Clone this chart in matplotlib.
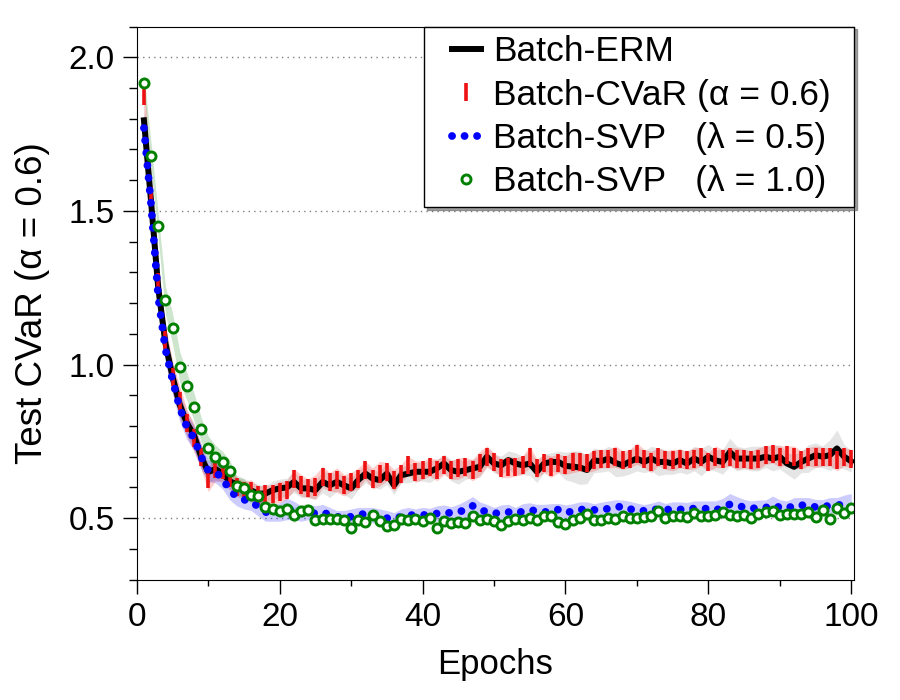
import matplotlib
matplotlib.use("Agg")
import matplotlib.pyplot as plt
from matplotlib.legend_handler import HandlerLine2D
import numpy as np

plt.rcParams['font.family'] = ['Liberation Sans', 'DejaVu Sans']

# ----- data -----
epochs = list(range(1, 101))

erm = [1.795, 1.53, 1.25, 1.07, 0.96, 0.87, 0.81, 0.77, 0.70, 0.65,
       0.66, 0.645, 0.62, 0.61, 0.60, 0.59, 0.58, 0.58, 0.591, 0.597,
       0.60, 0.618, 0.597, 0.597, 0.591, 0.618, 0.607, 0.618, 0.607, 0.597,
       0.624, 0.645, 0.629, 0.624, 0.645, 0.607, 0.64, 0.645, 0.651, 0.651,
       0.651, 0.662, 0.678, 0.656, 0.651, 0.656, 0.662, 0.667, 0.70, 0.678,
       0.672, 0.689, 0.678, 0.672, 0.678, 0.651, 0.678, 0.683, 0.683, 0.67,
       0.668, 0.665, 0.657, 0.688, 0.685, 0.694, 0.68, 0.672, 0.684, 0.694,
       0.683, 0.694, 0.683, 0.683, 0.678, 0.689, 0.678, 0.694, 0.683, 0.70,
       0.688, 0.683, 0.715, 0.694, 0.694, 0.694, 0.694, 0.70, 0.694, 0.70,
       0.678, 0.667, 0.683, 0.694, 0.705, 0.70, 0.705, 0.727, 0.70, 0.685]
erm_sd = [0.07, 0.06, 0.05, 0.05, 0.05, 0.045, 0.04, 0.04, 0.04, 0.035,
          0.035, 0.03, 0.03, 0.03, 0.03, 0.025, 0.03, 0.025, 0.03, 0.03,
          0.03, 0.035, 0.03, 0.03, 0.03, 0.035, 0.04, 0.03, 0.03, 0.035,
          0.03, 0.03, 0.025, 0.03, 0.035, 0.03, 0.025, 0.03, 0.03, 0.03,
          0.035, 0.03, 0.03, 0.035, 0.04, 0.03, 0.03, 0.035, 0.03, 0.03,
          0.03, 0.03, 0.035, 0.03, 0.04, 0.035, 0.03, 0.03, 0.035, 0.045,
          0.05, 0.055, 0.045, 0.04, 0.035, 0.04, 0.045, 0.035, 0.04, 0.04,
          0.035, 0.04, 0.045, 0.04, 0.035, 0.04, 0.035, 0.04, 0.045, 0.04,
          0.035, 0.04, 0.045, 0.04, 0.035, 0.04, 0.04, 0.035, 0.04, 0.04,
          0.035, 0.04, 0.035, 0.045, 0.04, 0.035, 0.05, 0.06, 0.04, 0.035]

cvar = [1.875, 1.55, 1.27, 1.08, 0.96, 0.88, 0.81, 0.76, 0.70, 0.626,
        0.66, 0.656, 0.63, 0.60, 0.59, 0.59, 0.575, 0.578, 0.578, 0.585,
        0.591, 0.626, 0.607, 0.597, 0.602, 0.634, 0.618, 0.624, 0.607, 0.618,
        0.629, 0.656, 0.629, 0.645, 0.651, 0.624, 0.645, 0.672, 0.651, 0.656,
        0.667, 0.656, 0.672, 0.656, 0.662, 0.667, 0.656, 0.678, 0.70, 0.683,
        0.662, 0.667, 0.667, 0.672, 0.70, 0.662, 0.678, 0.667, 0.678, 0.672,
        0.683, 0.683, 0.678, 0.689, 0.694, 0.694, 0.70, 0.689, 0.694, 0.71,
        0.694, 0.683, 0.70, 0.689, 0.689, 0.694, 0.689, 0.694, 0.70, 0.683,
        0.70, 0.694, 0.70, 0.694, 0.694, 0.689, 0.694, 0.705, 0.71, 0.70,
        0.705, 0.70, 0.689, 0.70, 0.70, 0.70, 0.70, 0.689, 0.70, 0.694]
cvar_sd = [0.06, 0.06, 0.055, 0.05, 0.05, 0.05, 0.045, 0.045, 0.04, 0.04,
           0.04, 0.035, 0.035, 0.03, 0.03, 0.035, 0.03, 0.03, 0.03, 0.035,
           0.03, 0.035, 0.035, 0.03, 0.04, 0.035, 0.03, 0.04, 0.035, 0.03,
           0.035, 0.03, 0.035, 0.04, 0.03, 0.035, 0.03, 0.03, 0.035, 0.03,
           0.03, 0.035, 0.03, 0.03, 0.035, 0.03, 0.035, 0.04, 0.035, 0.03,
           0.03, 0.035, 0.03, 0.03, 0.035, 0.03, 0.03, 0.035, 0.03, 0.03,
           0.035, 0.03, 0.03, 0.035, 0.03, 0.03, 0.035, 0.03, 0.03, 0.035,
           0.03, 0.035, 0.03, 0.03, 0.035, 0.03, 0.03, 0.035, 0.03, 0.03,
           0.035, 0.03, 0.03, 0.035, 0.03, 0.03, 0.035, 0.03, 0.03, 0.035,
           0.03, 0.035, 0.03, 0.03, 0.035, 0.03, 0.03, 0.035, 0.03, 0.03]

svp05 = [1.77, 1.52, 1.22, 1.05, 0.95, 0.86, 0.797, 0.76, 0.70, 0.655,
         0.65, 0.63, 0.59, 0.57, 0.56, 0.555, 0.537, 0.52, 0.515, 0.52,
         0.53, 0.525, 0.515, 0.52, 0.515, 0.52, 0.51, 0.505, 0.50, 0.505,
         0.51, 0.515, 0.51, 0.505, 0.50, 0.498, 0.505, 0.51, 0.51, 0.51,
         0.512, 0.515, 0.518, 0.517, 0.52, 0.527, 0.54, 0.528, 0.52, 0.515,
         0.518, 0.52, 0.515, 0.522, 0.525, 0.525, 0.52, 0.522, 0.528, 0.518,
         0.522, 0.528, 0.528, 0.527, 0.527, 0.531, 0.535, 0.539, 0.53, 0.524,
         0.524, 0.524, 0.531, 0.528, 0.528, 0.528, 0.531, 0.531, 0.531, 0.531,
         0.526, 0.534, 0.545, 0.54, 0.536, 0.531, 0.534, 0.534, 0.542, 0.535,
         0.531, 0.542, 0.542, 0.542, 0.536, 0.535, 0.542, 0.542, 0.545, 0.55]
svp05_sd = [0.05, 0.05, 0.05, 0.045, 0.045, 0.045, 0.04, 0.04, 0.04, 0.035,
            0.035, 0.035, 0.03, 0.03, 0.03, 0.03, 0.03, 0.03, 0.025, 0.03,
            0.035, 0.03, 0.025, 0.025, 0.025, 0.025, 0.025, 0.02, 0.025, 0.025,
            0.025, 0.02, 0.025, 0.025, 0.025, 0.02, 0.025, 0.025, 0.02, 0.025,
            0.02, 0.025, 0.025, 0.02, 0.025, 0.03, 0.03, 0.025, 0.025, 0.02,
            0.025, 0.025, 0.02, 0.025, 0.025, 0.02, 0.025, 0.025, 0.02, 0.025,
            0.025, 0.025, 0.025, 0.02, 0.025, 0.025, 0.025, 0.02, 0.025, 0.025,
            0.02, 0.025, 0.025, 0.02, 0.025, 0.025, 0.02, 0.025, 0.025, 0.025,
            0.03, 0.03, 0.035, 0.03, 0.025, 0.025, 0.025, 0.025, 0.03, 0.025,
            0.025, 0.025, 0.025, 0.025, 0.025, 0.025, 0.025, 0.025, 0.03, 0.03]

svp10 = [1.915, 1.68, 1.45, 1.21, 1.118, 0.993, 0.929, 0.863, 0.789, 0.727,
         0.698, 0.682, 0.655, 0.604, 0.598, 0.575, 0.571, 0.537, 0.531, 0.524,
         0.531, 0.510, 0.524, 0.528, 0.493, 0.496, 0.496, 0.496, 0.493, 0.469,
         0.493, 0.486, 0.510, 0.490, 0.474, 0.479, 0.497, 0.493, 0.496, 0.491,
         0.499, 0.469, 0.490, 0.483, 0.488, 0.485, 0.506, 0.493, 0.497, 0.491,
         0.479, 0.490, 0.498, 0.493, 0.502, 0.493, 0.508, 0.508, 0.488, 0.482,
         0.493, 0.502, 0.513, 0.493, 0.493, 0.501, 0.497, 0.508, 0.501, 0.499,
         0.504, 0.506, 0.524, 0.499, 0.508, 0.506, 0.504, 0.518, 0.508, 0.506,
         0.510, 0.521, 0.510, 0.508, 0.510, 0.501, 0.515, 0.521, 0.523, 0.510,
         0.515, 0.515, 0.513, 0.521, 0.504, 0.526, 0.497, 0.533, 0.517, 0.534]
svp10_sd = [0.03, 0.04, 0.04, 0.045, 0.05, 0.05, 0.045, 0.045, 0.04, 0.04,
            0.04, 0.035, 0.035, 0.03, 0.03, 0.025, 0.025, 0.02, 0.02, 0.02,
            0.02, 0.025, 0.02, 0.02, 0.015, 0.015, 0.015, 0.015, 0.015, 0.015,
            0.015, 0.015, 0.015, 0.015, 0.015, 0.015, 0.02, 0.015, 0.015, 0.015,
            0.015, 0.015, 0.015, 0.015, 0.015, 0.015, 0.015, 0.015, 0.015, 0.015,
            0.015, 0.015, 0.015, 0.015, 0.015, 0.015, 0.015, 0.015, 0.015, 0.015,
            0.015, 0.015, 0.02, 0.015, 0.015, 0.015, 0.015, 0.015, 0.015, 0.015,
            0.015, 0.015, 0.015, 0.015, 0.015, 0.015, 0.015, 0.015, 0.015, 0.015,
            0.015, 0.015, 0.015, 0.015, 0.015, 0.015, 0.015, 0.015, 0.015, 0.015,
            0.015, 0.015, 0.015, 0.015, 0.015, 0.02, 0.015, 0.02, 0.015, 0.02]

labels = ["Batch-ERM", "Batch-CVaR (\u03b1 = 0.6)",
          "Batch-SVP   (\u03bb = 0.5)", "Batch-SVP   (\u03bb = 1.0)"]

# ----- plot -----
fig = plt.figure(figsize=(9, 7), dpi=100)
ax = fig.add_axes([0.152, 0.172, 0.797, 0.790])

x = np.array(epochs)
bands = [(erm, erm_sd, "grey"), (cvar, cvar_sd, "red"),
         (svp05, svp05_sd, "blue"), (svp10, svp10_sd, "green")]
for m, s, c in bands:
    m = np.array(m)
    s = np.array(s)
    ax.fill_between(x, m - s, m + s, color=c, alpha=0.2, lw=0)

ax.plot(x, erm, color="black", lw=4.3, label=labels[0])
ax.plot(x, cvar, ls="none", marker="|", ms=13, mew=2.6, color="#ee1111",
        label=labels[1])
ax.plot(x, svp05, color="blue", lw=5.6, ls=(0, (0.01, 1.6)),
        dash_capstyle="round", label=labels[2])
ax.plot(x, svp10, ls="none", marker="o", ms=6.5, mew=2.1, mfc="white",
        mec="green", label=labels[3])

ax.set_xlim(0, 100.4)
ax.set_ylim(0.3, 2.1)
ax.set_xticks([0, 20, 40, 60, 80, 100])
ax.set_xticks(np.arange(10, 100, 20), minor=True)
ax.set_yticks([0.5, 1.0, 1.5, 2.0])
ax.set_yticks(np.arange(0.3, 2.15, 0.1), minor=True)
ax.tick_params(which="major", length=10, width=1, labelsize=24, pad=6)
ax.tick_params(axis="x", which="minor", length=4.5, width=1)
ax.tick_params(axis="y", which="minor", length=5.5, width=1)
ax.yaxis.grid(True, which="major", ls=(0, (1, 3)), color="grey", lw=1)
ax.set_axisbelow(True)

ax.set_xlabel("Epochs", fontsize=25, labelpad=11)
ax.set_ylabel("Test CVaR (\u03b1 = 0.6)", fontsize=26.5, labelpad=13)

hl = HandlerLine2D(xpad=0.55)
leg = ax.legend(loc="upper right", bbox_to_anchor=(0.4003, 0, 0.5997, 1),
                mode="expand", fontsize=25.5, borderaxespad=0,
                frameon=True, fancybox=False, shadow=True, numpoints=1,
                handlelength=1.35, labelspacing=0.29, borderpad=0.25,
                handletextpad=0.35,
                handler_map={l: hl for l in ax.get_lines()})
leg.get_frame().set_edgecolor("black")
leg.get_frame().set_linewidth(1.0)

plt.savefig("out.png", dpi=100)
